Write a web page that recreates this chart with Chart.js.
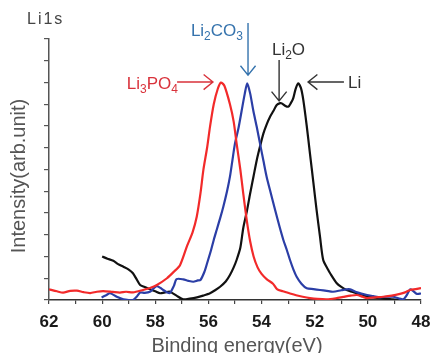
<!DOCTYPE html>
<html>
<head>
<meta charset="utf-8">
<script src="https://cdn.jsdelivr.net/npm/chart.js@4.4.1/dist/chart.umd.min.js"></script>
<style>
    html, body { margin: 0; padding: 0; background: #fff; }
    #wrap { width: 431px; height: 353px; }
</style>
</head>
<body>
<div id="wrap"><canvas id="xpsChart" width="431" height="353"></canvas></div>
<script>
// Li1s spectra, binding energy (eV) vs intensity (arb. unit)
const li3po4Energy = [62, 61.7, 61.47, 61.2, 60.95, 60.7, 60.45, 60.2, 59.96, 59.6, 59.33, 59.1, 58.84, 58.46, 58.2,
    57.94, 57.56, 57.3, 57.07, 56.8, 56.6, 56.44, 56.3, 56.19, 56.05, 55.94, 55.8, 55.65, 55.53, 55.4, 55.19,
    55.05, 54.94, 54.8, 54.69, 54.55, 54.43, 54.3, 54.15, 54.0, 53.8, 53.57, 53.42, 53.2, 52.93, 52.7, 52.45,
    52.18, 51.9, 51.54, 51.2, 50.93, 50.65, 50.41, 50.2, 50.03, 49.75, 49.42, 49.1, 48.79, 48.6, 48.41, 48.2, 48];
const li3po4Value = [0.49, 0.4, 0.34, 0.42, 0.43, 0.36, 0.32, 0.38, 0.41, 0.37, 0.34, 0.38, 0.35, 0.46, 0.55,
    0.69, 1.0, 1.3, 1.6, 2.5, 3.1, 3.83, 4.9, 5.98, 7.0, 7.97, 9.0, 9.7, 10.0, 9.85, 9.0,
    8.2, 7.2, 6.0, 4.9, 3.6, 2.7, 2.0, 1.5, 1.2, 0.95, 0.75, 0.5, 0.4, 0.3, 0.22, 0.15,
    0.09, 0.05, 0.03, 0.08, 0.14, 0.2, 0.23, 0.15, 0.09, 0.12, 0.15, 0.2, 0.28, 0.35, 0.46, 0.5, 0.55];

const li2co3Energy = [60.02, 59.85, 59.7, 59.45, 59.2, 59.0, 58.84, 58.7, 58.57, 58.4, 58.2, 58.05, 57.94, 57.8,
    57.7, 57.55, 57.45, 57.3, 57.2, 56.95, 56.75, 56.57, 56.4, 56.3, 56.15, 56.05, 55.9, 55.8, 55.69, 55.55,
    55.44, 55.3, 55.19, 55.1, 55.0, 54.87, 54.75, 54.63, 54.54, 54.43, 54.31, 54.18, 54.06, 53.93, 53.81,
    53.65, 53.49, 53.33, 53.18, 53.05, 52.93, 52.8, 52.68, 52.5, 52.3, 52.05, 51.8, 51.55, 51.31, 51.0, 50.8,
    50.67, 50.4, 50.03, 49.8, 49.54, 49.3, 49.05, 48.85, 48.67, 48.55, 48.41, 48.3, 48.15, 48];
const li2co3Value = [0.12, 0.22, 0.31, 0.15, 0.03, 0.0, 0.0, 0.15, 0.34, 0.33, 0.38, 0.55, 0.64, 0.55,
    0.46, 0.35, 0.32, 0.65, 0.96, 0.95, 0.88, 0.84, 0.9, 0.92, 1.3, 1.69, 2.3, 2.76, 3.22, 3.8,
    4.29, 5.0, 5.67, 6.4, 7.2, 7.9, 8.7, 9.5, 9.96, 9.5, 8.7, 7.95, 7.2, 6.4, 5.67,
    4.9, 4.14, 3.4, 2.76, 2.3, 1.84, 1.4, 1.07, 0.75, 0.54, 0.5, 0.46, 0.42, 0.38, 0.45, 0.49,
    0.49, 0.35, 0.23, 0.18, 0.12, 0.15, 0.15, 0.08, 0.03, 0.2, 0.49, 0.42, 0.28, 0.3];

const liMetalEnergy = [60.0, 59.8, 59.58, 59.4, 59.2, 59.0, 58.84, 58.7, 58.57, 58.4, 58.2, 58.0, 57.82, 57.6,
    57.45, 57.2, 56.95, 56.7, 56.43, 56.2, 55.94, 55.75, 55.56, 55.35, 55.19, 55.05, 54.94, 54.8, 54.69,
    54.55, 54.43, 54.3, 54.18, 54.05, 53.93, 53.8, 53.68, 53.55, 53.43, 53.3, 53.24, 53.1, 52.99, 52.9,
    52.81, 52.72, 52.62, 52.52, 52.43, 52.3, 52.18, 52.05, 51.93, 51.8, 51.68, 51.5, 51.42, 51.17, 51.0,
    50.8, 50.6, 50.41, 50.2, 50.03, 49.8, 49.54, 49.3, 49.05, 48.79];
const liMetalValue = [2.0, 1.9, 1.8, 1.65, 1.53, 1.4, 1.23, 0.95, 0.69, 0.6, 0.49, 0.4, 0.31, 0.36,
    0.38, 0.2, 0.03, 0.06, 0.12, 0.2, 0.31, 0.45, 0.61, 0.85, 1.15, 1.5, 1.84, 2.4, 3.3,
    4.1, 4.9, 5.7, 6.44, 7.1, 7.66, 8.1, 8.43, 8.7, 8.97, 9.05, 9.04, 8.92, 8.89, 9.05,
    9.27, 9.7, 9.96, 9.75, 9.2, 8.0, 6.74, 5.4, 4.14, 2.9, 1.84, 1.4, 1.23, 0.77, 0.6,
    0.46, 0.38, 0.31, 0.22, 0.15, 0.12, 0.08, 0.05, 0.03, 0.0];

const energyTicks = [48, 62];
const peakNames = ['Li3PO4', 'Li2CO3', 'Li2O', 'Li'];

const toPoints = (xs, ys) => xs.map((v, i) => ({ x: v, y: ys[i] }));

// arrow + label placement, in data units
const peakNotes = [
    { name: peakNames[0], color: '#d9323b', from: [57.18, 10.02], to: [55.83, 10.02], at: [57.145, 9.72], align: 'right' },
    { name: peakNames[1], color: '#3573ad', from: [54.51, 12.74], to: [54.51, 10.34], at: [54.70, 12.14], align: 'right' },
    { name: peakNames[2], color: '#333333', from: [53.34, 11.03], to: [53.34, 9.15], at: [53.61, 11.26], align: 'left' },
    { name: peakNames[3], color: '#333333', from: [50.90, 10.02], to: [52.25, 10.02], at: [50.75, 9.75], align: 'left' }
];

function drawChem(ctx, text, px, py, align) {
    const parts = text.split(/(\d)/).filter(p => p.length);
    const big = '17px "Liberation Sans", Arial, sans-serif';
    const small = '12px "Liberation Sans", Arial, sans-serif';
    let total = 0;
    parts.forEach(p => {
        ctx.font = /\d/.test(p) ? small : big;
        total += ctx.measureText(p).width;
    });
    let cx = align === 'right' ? px - total : px;
    ctx.textAlign = 'left';
    ctx.textBaseline = 'alphabetic';
    parts.forEach(p => {
        const sub = /\d/.test(p);
        ctx.font = sub ? small : big;
        ctx.fillText(p, cx, sub ? py + 4 : py);
        cx += ctx.measureText(p).width;
    });
}

function drawArrow(ctx, x1, y1, x2, y2) {
    const ang = Math.atan2(y2 - y1, x2 - x1);
    const len = 12, spread = 0.68;
    ctx.beginPath();
    ctx.moveTo(x1, y1);
    ctx.lineTo(x2, y2);
    ctx.moveTo(x2 - len * Math.cos(ang - spread), y2 - len * Math.sin(ang - spread));
    ctx.lineTo(x2, y2);
    ctx.lineTo(x2 - len * Math.cos(ang + spread), y2 - len * Math.sin(ang + spread));
    ctx.stroke();
}

const labelsPlugin = {
    id: 'xpsLabels',
    afterDraw(chart) {
        const ctx = chart.ctx;
        const xs = chart.scales.x, ys = chart.scales.y;
        const area = chart.chartArea;
        ctx.save();

        peakNotes.forEach(n => {
            ctx.strokeStyle = n.color;
            ctx.fillStyle = n.color;
            ctx.lineWidth = 1.4;
            drawArrow(ctx, xs.getPixelForValue(n.from[0]), ys.getPixelForValue(n.from[1]),
                xs.getPixelForValue(n.to[0]), ys.getPixelForValue(n.to[1]));
            drawChem(ctx, n.name, xs.getPixelForValue(n.at[0]), ys.getPixelForValue(n.at[1]), n.align);
        });

        // panel tag
        ctx.fillStyle = '#444';
        ctx.font = '16px "Liberation Sans", Arial, sans-serif';
        ctx.letterSpacing = '2px';
        ctx.textAlign = 'left';
        ctx.fillText('Li1s', 27, 24);
        ctx.letterSpacing = '0px';

        // axis titles
        ctx.fillStyle = '#555';
        ctx.font = '20px "Liberation Sans", Arial, sans-serif';
        ctx.textAlign = 'center';
        ctx.fillText('Binding energy(eV)', (area.left + area.right) / 2 + 2, 352);

        ctx.translate(25, 176);
        ctx.rotate(-Math.PI / 2);
        ctx.font = '20px "Liberation Sans", Arial, sans-serif';
        ctx.fillText('Intensity(arb.unit)', 0, 0);
        ctx.restore();
    }
};

const ctx = document.getElementById('xpsChart').getContext('2d');
const chart = new Chart(ctx, {
    type: 'line',
    data: {
        datasets: [
            { label: peakNames[0], data: toPoints(li3po4Energy, li3po4Value), borderColor: '#f22a2a', borderWidth: 2.2 },
            { label: peakNames[1], data: toPoints(li2co3Energy, li2co3Value), borderColor: '#2b3ea6', borderWidth: 2.2 },
            { label: peakNames[3], data: toPoints(liMetalEnergy, liMetalValue), borderColor: '#111111', borderWidth: 2.2 }
        ]
    },
    options: {
        responsive: false,
        animation: false,
        devicePixelRatio: 1,
        layout: { padding: { top: 39, right: 10, left: 0, bottom: 0 } },
        elements: { point: { radius: 0 }, line: { tension: 0.25, fill: false } },
        plugins: { legend: { display: false }, tooltip: { enabled: false } },
        scales: {
            x: {
                type: 'linear',
                reverse: true,
                min: energyTicks[0],
                max: energyTicks[1],
                ticks: {
                    stepSize: 1,
                    autoSkip: false,
                    maxRotation: 0,
                    padding: 8,
                    color: '#1a1a1a',
                    font: { family: '"Liberation Sans", Arial, sans-serif', size: 17, weight: 'bold' },
                    callback: v => (v % 2 === 0 ? v : '')
                },
                grid: { drawOnChartArea: false, drawTicks: true, tickLength: 4, color: '#444', lineWidth: 1.2 },
                border: { color: '#333', width: 1.5 },
                afterFit: s => { s.height = 53; s.paddingLeft = 0; s.paddingRight = 0; }
            },
            y: {
                min: 0,
                max: 12,
                ticks: { stepSize: 1, display: false },
                grid: { drawOnChartArea: false, drawTicks: true, tickLength: 5, color: '#555', lineWidth: 1.2 },
                border: { color: '#555', width: 1.5 },
                afterFit: s => { s.width = 49; }
            }
        }
    },
    plugins: [labelsPlugin]
});
</script>
</body>
</html>
